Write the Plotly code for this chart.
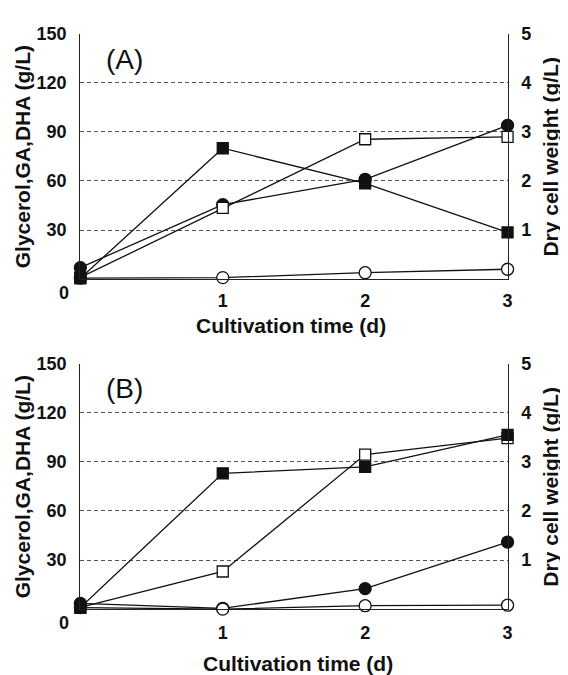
import plotly.graph_objects as go

# ---- data ----
days = [0, 1, 2, 3]
x_ticks = [1, 2, 3]
y_ticks = [30, 60, 90, 120, 150]
y2_ticks = [1, 2, 3, 4, 5]
Y_LEFT_MAX = 150   # Glycerol, GA, DHA axis (g/L)
Y_RIGHT_MAX = 5    # dry cell weight axis (g/L)

# Panel A (g/L, left axis)
a_filled_square = [0.5, 80.0, 58.5, 28.5]
a_open_square = [1.0, 43.5, 85.5, 87.0]
a_filled_circle = [7.0, 45.5, 61.0, 94.0]
# Panel A dry cell weight (g/L, right axis)
a_open_circle = [0.02, 0.03, 0.13, 0.20]

# Panel B
b_filled_square = [1.0, 83.0, 87.0, 106.5]
b_open_square = [1.0, 23.0, 94.5, 104.5]
b_filled_circle = [3.5, 0.5, 12.5, 41.0]
b_open_circle = [0.03, 0.0, 0.07, 0.08]

left_title = "Glycerol,GA,DHA (g/L)"
right_title = "Dry cell weight (g/L)"
x_title = "Cultivation time (d)"

FONT = "Liberation Sans, Arial, sans-serif"
W, H = 568, 675
OFF = 8  # page body margin in the rendered html

def px_x(v):
    return (v - OFF) / W

def px_y(v):
    return 1 - (v - OFF) / H

fig = go.Figure()
INK = "#111111"

def add_series(x, y, symbol, filled, xa, ya, size):
    fig.add_trace(go.Scatter(
        x=x, y=y, mode="lines+markers", xaxis=xa, yaxis=ya,
        line=dict(color=INK, width=1.3),
        marker=dict(symbol=symbol, size=size,
                    color=INK if filled else "white",
                    line=dict(color=INK, width=1.3)),
        cliponaxis=False, showlegend=False))

def add_dcw(x, dcw, xa, ya_left, ya_right):
    # carries the right-hand (dry cell weight) axis
    fig.add_trace(go.Scatter(x=x, y=dcw, xaxis=xa, yaxis=ya_right, mode="lines",
                             line=dict(color="rgba(0,0,0,0)", width=0),
                             hoverinfo="skip", showlegend=False))
    # drawn in the left-axis layer so stacking order follows the reference
    scale = Y_LEFT_MAX / Y_RIGHT_MAX
    add_series(x, [v * scale for v in dcw], "circle", False, xa, ya_left, 12)

# Panel A
add_dcw(days, a_open_circle, "x", "y", "y2")
add_series(days, a_filled_circle, "circle", True, "x", "y", 12)
add_series(days, a_open_square, "square", False, "x", "y", 11)
add_series(days, a_filled_square, "square", True, "x", "y", 11)
# Panel B
add_series(days, b_filled_circle, "circle", True, "x2", "y3", 12)
add_dcw(days, b_open_circle, "x2", "y3", "y4")
add_series(days, b_open_square, "square", False, "x2", "y3", 11)
add_series(days, b_filled_square, "square", True, "x2", "y3", 11)

xdom = [px_x(81), px_x(512)]
ydomA = [px_y(273), px_y(24)]
ydomB = [px_y(608), px_y(359)]

tickfont = dict(family=FONT, size=18, color=INK, weight="bold")

def xaxis(anchor, standoff):
    return dict(domain=xdom, anchor=anchor, range=[0, 3], tickvals=x_ticks,
                showline=True, linecolor="#222222", linewidth=1.3,
                showgrid=False, zeroline=False, ticks="", tickfont=tickfont,
                ticklabelstandoff=standoff)

def yleft(dom, anchor):
    return dict(domain=dom, anchor=anchor, range=[0, Y_LEFT_MAX], tickvals=y_ticks,
                showline=True, linecolor="#222222", linewidth=1.3,
                showgrid=True, gridcolor="#555555", gridwidth=1, griddash="4px,3px",
                zeroline=False, ticks="", tickfont=tickfont, ticklabelstandoff=9)

def yright(overlay, anchor):
    return dict(overlaying=overlay, anchor=anchor, side="right", range=[0, Y_RIGHT_MAX],
                tickvals=y2_ticks, showline=True, linecolor="#222222", linewidth=1.3,
                showgrid=False, zeroline=False, ticks="", tickfont=tickfont,
                ticklabelstandoff=9)

fig.update_layout(
    width=W, height=H, autosize=False,
    margin=dict(l=0, r=0, t=0, b=0),
    paper_bgcolor="white", plot_bgcolor="white",
    hovermode=False,
    xaxis=xaxis("y", 5),
    yaxis=yleft(ydomA, "x"),
    yaxis2=yright("y", "x"),
    xaxis2=xaxis("y3", 7),
    yaxis3=yleft(ydomB, "x2"),
    yaxis4=yright("y3", "x2"),
)

title_font = dict(family=FONT, size=21, color=INK, weight="bold")
ann = []
for top, bot, lab, xt_x, xt_y, lab_y in [(24, 273, "(A)", 294, 320, 50),
                                         (359, 608, "(B)", 301, 663, 384)]:
    mid = (top + bot) / 2
    ann.append(dict(text=left_title, x=px_x(23), y=px_y(mid), textangle=-90,
                    font=title_font))
    ann.append(dict(text=right_title, x=px_x(555), y=px_y(mid), textangle=-90,
                    font=title_font))
    ann.append(dict(text=x_title, x=px_x(xt_x), y=px_y(xt_y), font=title_font))
    ann.append(dict(text=lab, x=px_x(126), y=px_y(lab_y),
                    font=dict(family=FONT, size=28, color=INK)))
    ann.append(dict(text="0", x=px_x(64), y=px_y(bot + 14), font=tickfont))
for a in ann:
    a.update(xref="paper", yref="paper", showarrow=False,
             xanchor="center", yanchor="middle")
fig.update_layout(annotations=ann)

fig.write_html("out.html")
